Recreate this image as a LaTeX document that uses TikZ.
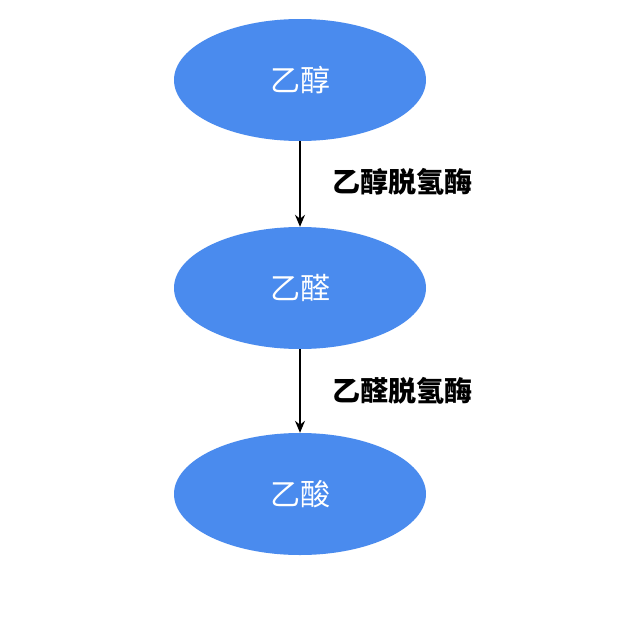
\documentclass[tikz,border=0pt]{standalone}
\usepackage{fontspec}
\newfontfamily\cjk{Noto Sans CJK SC}
\usetikzlibrary{shapes.geometric,arrows.meta}
\definecolor{nodeblue}{HTML}{4A8BEE}
\begin{document}
\begin{tikzpicture}[x=1pt,y=-1pt,
  blob/.style={ellipse,fill=nodeblue,draw=none,minimum width=252pt,minimum height=122pt,font=\cjk\fontsize{30}{34}\selectfont,text=white},
  conn/.style={draw=black,line width=1.5pt,-{Stealth[length=12pt,width=10pt]}},
  lbl/.style={font=\cjk\bfseries\fontsize{28}{32}\selectfont,anchor=west}]
\useasboundingbox[fill=white] (0,0) rectangle (640,621);
\node[blob] (a) at (300,80) {乙醇};
\node[blob] (b) at (300,288) {乙醛};
\node[blob] (c) at (300,494) {乙酸};
\draw[conn] (a) -- (b) node[midway,lbl,xshift=28pt,yshift=2pt] {乙醇脱氢酶};
\draw[conn] (b) -- (c) node[midway,lbl,xshift=28pt,yshift=0pt] {乙醛脱氢酶};
\end{tikzpicture}
\end{document}
